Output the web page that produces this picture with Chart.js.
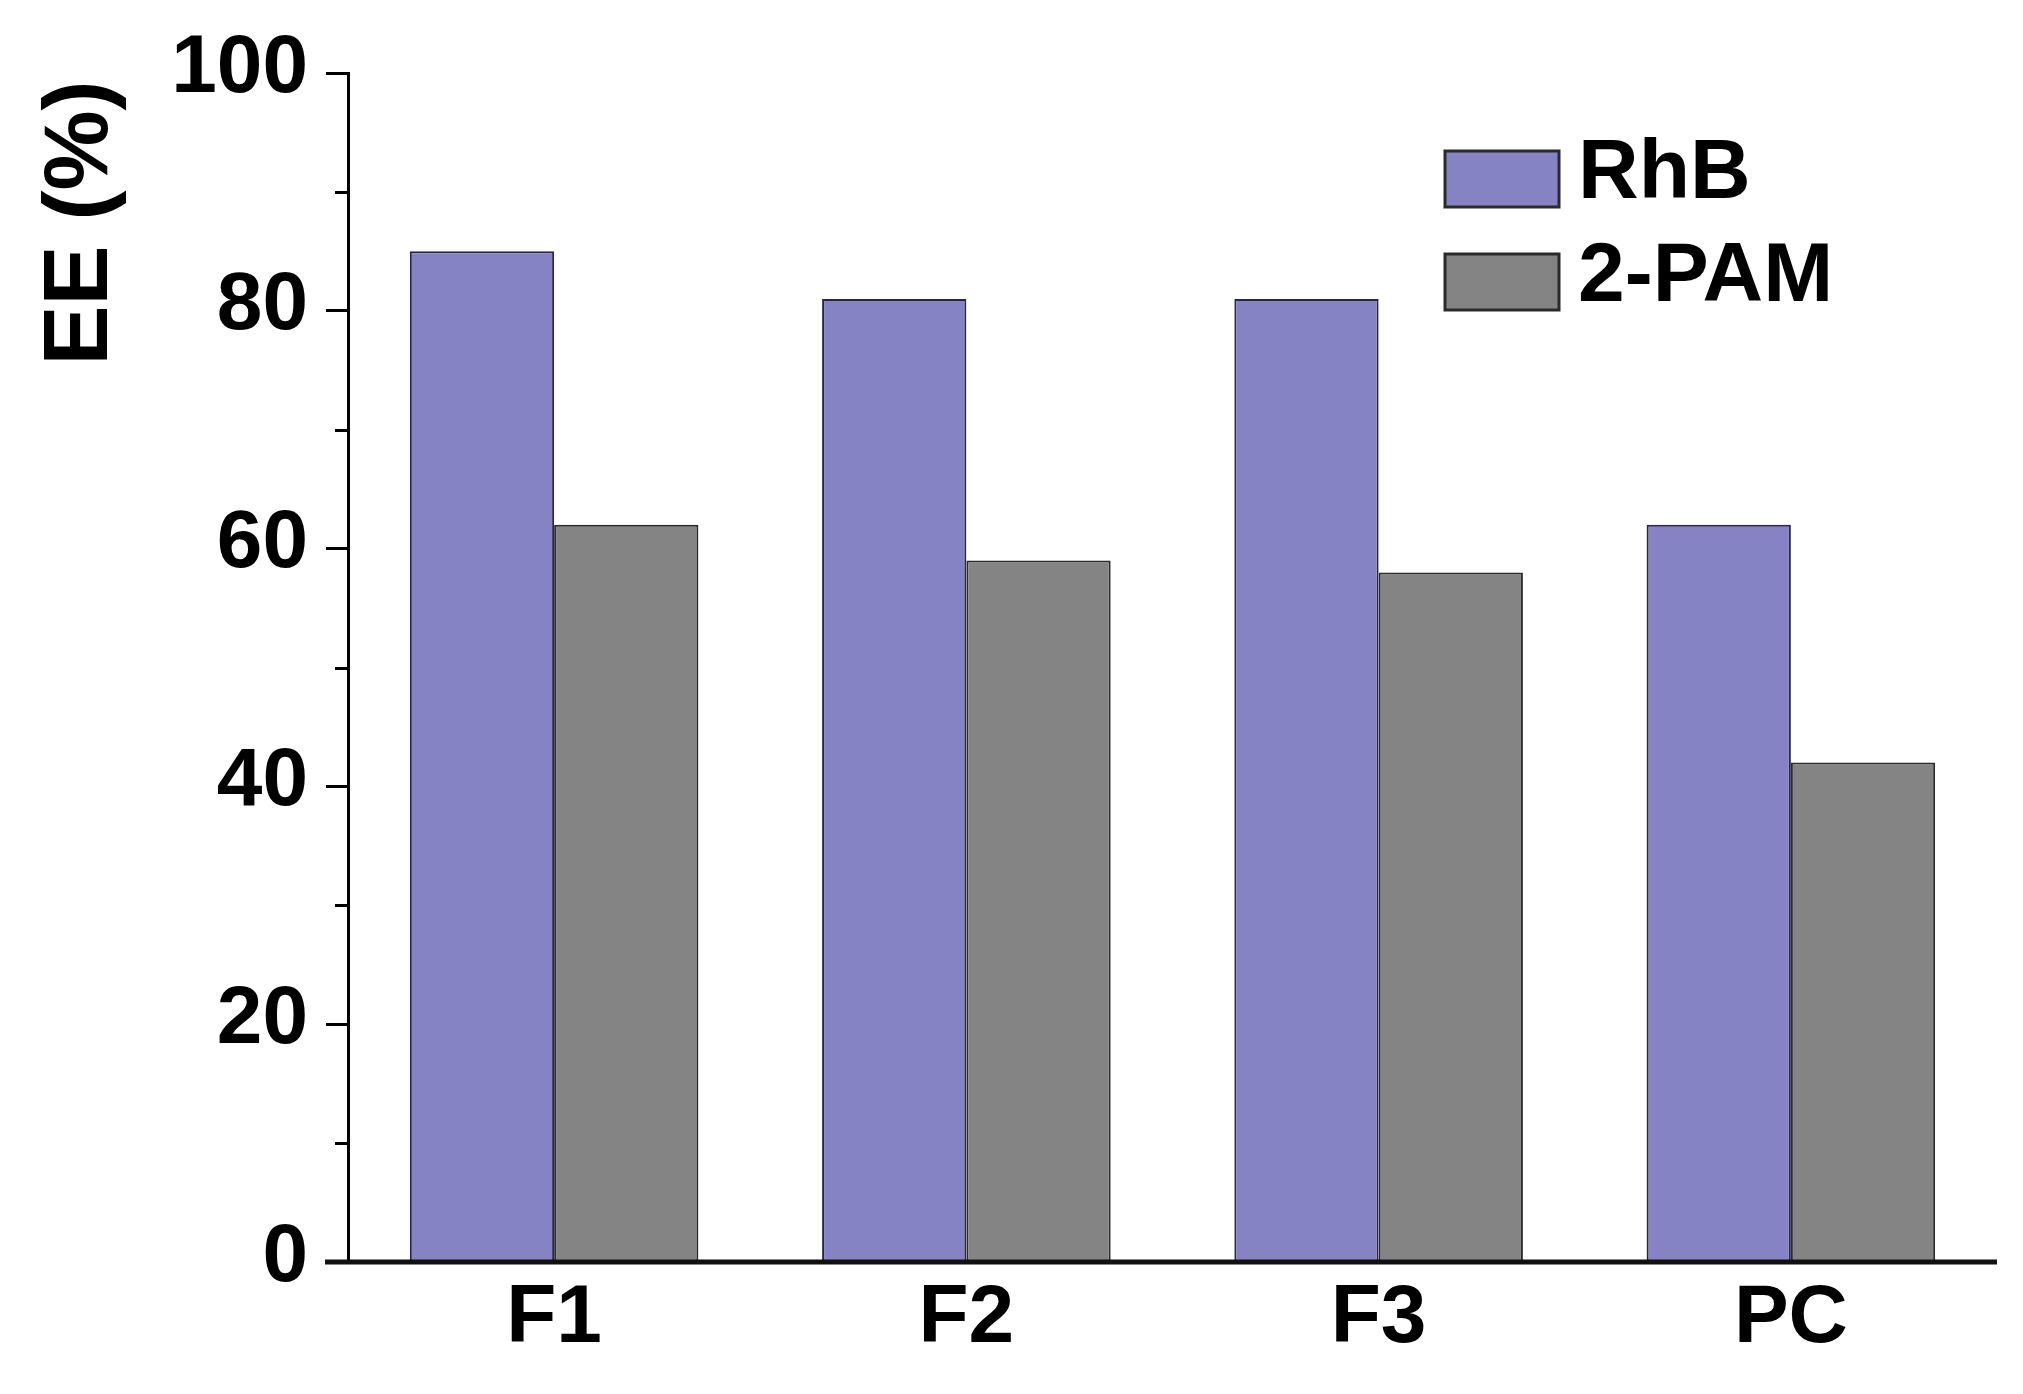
<!DOCTYPE html>
<html><head><meta charset="utf-8">
<script src="https://cdn.jsdelivr.net/npm/chart.js@4/dist/chart.umd.min.js"></script>
<style>html,body{margin:0;padding:0;background:#fff;} #wrap{width:2023px;height:1394px;}</style>
</head><body><div id="wrap"><canvas id="c" width="2023" height="1394"></canvas></div>
<script>
const categories = ['F1', 'F2', 'F3', 'PC'];
const seriesNames = ['RhB', '2-PAM'];
const rhbValues = [85, 81, 81, 62];
const pamValues = [62, 59, 58, 42];
const yTickValues = [0, 20, 40, 60, 80, 100];
const yMinorTickValues = [10, 30, 50, 70, 90];
const yTitle = 'EE (%)';

const colors = ['#8583C3', '#848484'];
const borders = ['#26264a', '#2a2a2a'];
const FONT = "'Liberation Sans', Arial, sans-serif";

const extrasPlugin = {
  id: 'extras',
  afterDatasetsDraw(chart) {
    const ctx = chart.ctx;
    const ca = chart.chartArea;
    const ys = chart.scales.y;
    ctx.save();
    // minor ticks
    ctx.strokeStyle = '#000';
    ctx.lineWidth = 3;
    yMinorTickValues.forEach(v => {
      const y = Math.round(ys.getPixelForValue(v)) + 0.5;
      ctx.beginPath();
      ctx.moveTo(ca.left - 13, y);
      ctx.lineTo(ca.left, y);
      ctx.stroke();
    });
    // x axis line
    ctx.lineWidth = 5;
    ctx.strokeStyle = '#111';
    ctx.beginPath();
    ctx.moveTo(ca.left - 23, ca.bottom);
    ctx.lineTo(ca.right, ca.bottom);
    ctx.stroke();
    // y axis title
    ctx.save();
    ctx.font = 'bold 90px ' + FONT;
    ctx.fillStyle = '#000';
    ctx.textAlign = 'center';
    ctx.textBaseline = 'alphabetic';
    ctx.translate(ca.left - 241, ca.top + 150);
    ctx.rotate(-Math.PI / 2);
    ctx.fillText(yTitle, 0, 0);
    ctx.restore();
    // legend
    const boxX = ca.right - 552;
    const boxW = 114, boxH = 56;
    const tops = [ca.top + 78, ca.top + 181];
    ctx.font = 'bold 84px ' + FONT;
    ctx.textAlign = 'left';
    ctx.textBaseline = 'alphabetic';
    chart.data.datasets.forEach((ds, i) => {
      ctx.fillStyle = ds.backgroundColor;
      ctx.fillRect(boxX, tops[i], boxW, boxH);
      ctx.lineWidth = 3;
      ctx.strokeStyle = '#2a2a2a';
      ctx.strokeRect(boxX, tops[i], boxW, boxH);
      ctx.fillStyle = '#000';
      ctx.fillText(ds.label, boxX + boxW + 19, tops[i] + boxH - 9);
    });
    ctx.restore();
  }
};

new Chart(document.getElementById('c'), {
  type: 'bar',
  data: {
    labels: categories,
    datasets: [
      { label: seriesNames[0], data: rhbValues, backgroundColor: colors[0], borderColor: borders[0], borderWidth: 2, borderSkipped: false },
      { label: seriesNames[1], data: pamValues, backgroundColor: colors[1], borderColor: borders[1], borderWidth: 2, borderSkipped: false }
    ]
  },
  options: {
    responsive: false,
    animation: false,
    devicePixelRatio: 1,
    layout: { padding: { top: 73, right: 26, bottom: 0, left: 0 } },
    plugins: { legend: { display: false }, tooltip: { enabled: false } },
    datasets: { bar: { categoryPercentage: 0.7, barPercentage: 1.0 } },
    scales: {
      x: {
        grid: { display: false, drawTicks: false },
        border: { display: false },
        ticks: { color: '#000', padding: 8, font: { family: FONT, size: 82, weight: 'bold' } },
        afterFit(s) { s.height = 132; }
      },
      y: {
        min: 0, max: 100,
        afterBuildTicks(s) { s.ticks = yTickValues.map(v => ({ value: v })); },
        grid: { drawOnChartArea: false, drawTicks: true, tickLength: 22, tickWidth: 3, tickColor: '#000' },
        border: { display: true, color: '#000', width: 3 },
        ticks: { color: '#000', padding: 18, labelOffset: -4, font: { family: FONT, size: 82, weight: 'bold' } },
        title: { display: false },
        afterFit(s) { s.width = 348; }
      }
    }
  },
  plugins: [extrasPlugin]
});
</script>
</body></html>
